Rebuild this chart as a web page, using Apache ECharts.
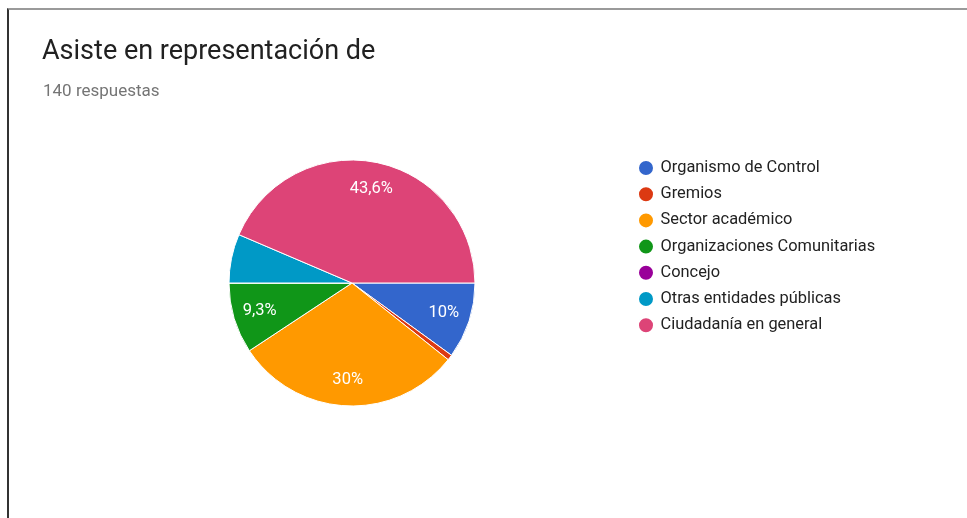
<!DOCTYPE html>
<html>
<head>
<meta charset="utf-8">
<script src="https://cdn.jsdelivr.net/npm/echarts@6/dist/echarts.min.js"></script>
<style>
  * { margin: 0; padding: 0; }
  body { background: #fff; }
  #chart { width: 967px; height: 518px; }
  #frame {
    position: absolute; left: 7px; top: 8px; right: 0; bottom: 0;
    border-top: 2px solid #9a9a9a; border-left: 2px solid #333;
    pointer-events: none;
  }
</style>
</head>
<body>
<div id="chart"></div>
<div id="frame"></div>
<script>
// respuestas por categoría (140 en total)
var categorias = ['Organismo de Control', 'Gremios', 'Sector académico', 'Organizaciones Comunitarias', 'Concejo', 'Otras entidades públicas', 'Ciudadanía en general'];
var respuestas = [14, 1, 42, 13, 0, 9, 61];
var colores = ['#3366cc', '#dc3912', '#ff9900', '#109618', '#990099', '#0099c6', '#dd4477'];

var datos = categorias.map(function (c, i) {
  return { name: c, value: respuestas[i], itemStyle: { color: colores[i] } };
});

function pct(p) {
  var s = (Math.round(p * 10) / 10).toString();
  return s.replace('.', ',') + '%';
}

var chart = echarts.init(document.getElementById('chart'));
chart.setOption({
  animation: false,
  title: [
    {
      text: 'Asiste en representación de',
      left: 37, top: 34,
      textStyle: { fontFamily: 'Roboto', fontSize: 27, fontWeight: 'normal', color: '#212121' }
    },
    {
      text: '140 respuestas',
      left: 38, top: 78,
      textStyle: { fontFamily: 'Roboto', fontSize: 17, fontWeight: 'normal', color: '#757575' }
    }
  ],
  legend: {
    orient: 'vertical',
    left: 632, top: 154,
    icon: 'circle',
    itemWidth: 19, itemHeight: 16, itemGap: 8.2,
    selectedMode: false,
    textStyle: { fontFamily: 'Roboto', fontSize: 16.4, color: '#222' },
    data: categorias
  },
  series: [
    {
      type: 'pie',
      center: [352, 283],
      radius: [0, 123],
      startAngle: 0,
      clockwise: true,
      silent: true,
      itemStyle: { borderColor: '#fff', borderWidth: 1 },
      label: { show: false },
      labelLine: { show: false },
      data: datos
    },
    {
      // capa transparente solo para ubicar las etiquetas
      type: 'pie',
      center: [352, 283],
      radius: [64, 123],
      startAngle: 0,
      clockwise: true,
      silent: true,
      legendHoverLink: false,
      itemStyle: { color: 'rgba(0,0,0,0)', borderWidth: 0 },
      label: {
        position: 'inside',
        fontFamily: 'Roboto',
        fontSize: 16.5,
        color: '#fff',
        formatter: function (p) { return p.percent > 7 ? pct(p.percent) : ''; }
      },
      labelLine: { show: false },
      data: categorias.map(function (c, i) { return { name: c + ' ', value: respuestas[i] }; })
    }
  ]
});
</script>
</body>
</html>
